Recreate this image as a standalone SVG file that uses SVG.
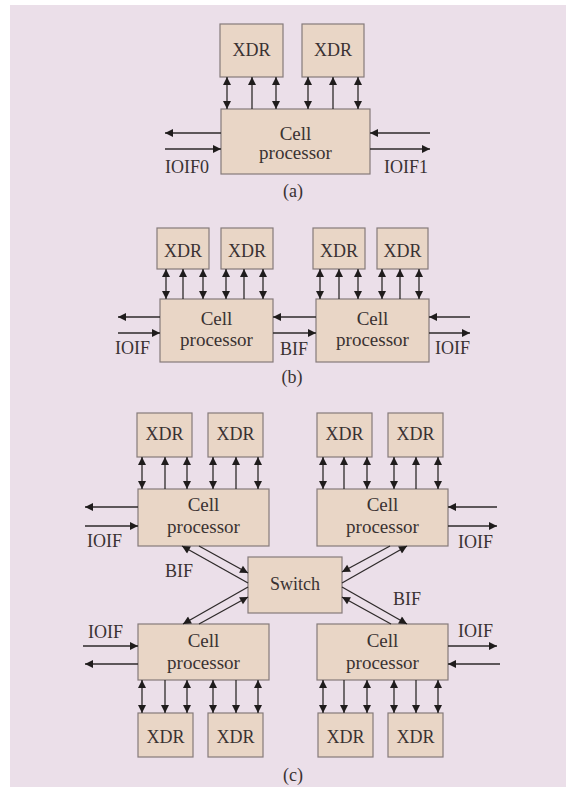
<svg xmlns="http://www.w3.org/2000/svg" width="566" height="787" viewBox="0 0 566 787">
<style>
.bg{fill:#ebdfe9}
.box{fill:#e9d6c6;stroke:#857b7b;stroke-width:1.2}
.t{font-family:"Liberation Serif","Times New Roman",serif;font-size:18px;fill:#3a3232;text-anchor:middle}
.p{font-size:19px}
.l{font-family:"Liberation Serif","Times New Roman",serif;font-size:18px;fill:#3a3232}
.c line{stroke:#2e2a2a;stroke-width:1.3;fill:none}
.u{marker-end:url(#ah)}
.d{marker-start:url(#ah);marker-end:url(#ah)}
</style>
<defs>
<marker id="ah" viewBox="0 0 10 10" refX="10" refY="5" markerUnits="userSpaceOnUse" markerWidth="10" markerHeight="8" orient="auto-start-reverse">
<path d="M0,0 L10,5 L0,10 z" fill="#1f1c1c"/>
</marker>
</defs>
<rect class="bg" x="10" y="5" width="556" height="782"/>

<!-- (a) -->
<g id="a-xdr1"><rect class="box" x="220" y="24" width="63" height="53"/><text class="t" x="251.5" y="56">XDR</text></g>
<g id="a-xdr2"><rect class="box" x="302" y="24" width="62" height="53"/><text class="t" x="333" y="56">XDR</text></g>
<g id="a-cell"><rect class="box" x="221" y="109" width="149" height="65"/><text class="t p" x="295.5" y="140">Cell</text><text class="t p" x="295.5" y="159">processor</text></g>
<g id="a-labels"><text class="l" x="165" y="173">IOIF0</text><text class="l" x="428" y="173" text-anchor="end">IOIF1</text><text class="t" x="293" y="197">(a)</text></g>

<!-- (b) -->
<g id="b-xdr1"><rect class="box" x="157" y="228" width="52" height="41"/><text class="t" x="183" y="257">XDR</text></g>
<g id="b-xdr2"><rect class="box" x="221" y="228" width="52" height="41"/><text class="t" x="247" y="257">XDR</text></g>
<g id="b-xdr3"><rect class="box" x="313" y="228" width="52" height="41"/><text class="t" x="339" y="257">XDR</text></g>
<g id="b-xdr4"><rect class="box" x="377" y="228" width="51" height="41"/><text class="t" x="402.5" y="257">XDR</text></g>
<g id="b-cell1"><rect class="box" x="160" y="299" width="113" height="63"/><text class="t p" x="216.5" y="325">Cell</text><text class="t p" x="216.5" y="346">processor</text></g>
<g id="b-cell2"><rect class="box" x="316" y="299" width="113" height="63"/><text class="t p" x="372.5" y="325">Cell</text><text class="t p" x="372.5" y="346">processor</text></g>
<g id="b-labels"><text class="l" x="115" y="354">IOIF</text><text class="l" x="280" y="355">BIF</text><text class="l" x="435" y="354">IOIF</text><text class="t" x="292" y="383">(b)</text></g>

<!-- (c) -->
<g id="c-xdr-tl1"><rect class="box" x="137" y="413" width="55" height="44"/><text class="t" x="164.5" y="440">XDR</text></g>
<g id="c-xdr-tl2"><rect class="box" x="208" y="413" width="55" height="44"/><text class="t" x="235.5" y="440">XDR</text></g>
<g id="c-xdr-tr1"><rect class="box" x="317" y="413" width="55" height="44"/><text class="t" x="344.5" y="440">XDR</text></g>
<g id="c-xdr-tr2"><rect class="box" x="388" y="413" width="55" height="44"/><text class="t" x="415.5" y="440">XDR</text></g>
<g id="c-cell-tl"><rect class="box" x="138" y="489" width="131" height="57"/><text class="t p" x="203.5" y="511">Cell</text><text class="t p" x="203.5" y="533">processor</text></g>
<g id="c-cell-tr"><rect class="box" x="317" y="489" width="131" height="57"/><text class="t p" x="382.5" y="511">Cell</text><text class="t p" x="382.5" y="533">processor</text></g>
<g id="c-switch"><rect class="box" x="248" y="557" width="94" height="56"/><text class="t" x="295" y="590">Switch</text></g>
<g id="c-cell-bl"><rect class="box" x="138" y="624" width="131" height="56"/><text class="t p" x="203.5" y="647">Cell</text><text class="t p" x="203.5" y="669">processor</text></g>
<g id="c-cell-br"><rect class="box" x="317" y="624" width="131" height="56"/><text class="t p" x="382.5" y="647">Cell</text><text class="t p" x="382.5" y="669">processor</text></g>
<g id="c-xdr-bl1"><rect class="box" x="138" y="713" width="55" height="44"/><text class="t" x="165.5" y="743">XDR</text></g>
<g id="c-xdr-bl2"><rect class="box" x="208" y="713" width="55" height="44"/><text class="t" x="235.5" y="743">XDR</text></g>
<g id="c-xdr-br1"><rect class="box" x="318" y="713" width="55" height="44"/><text class="t" x="345.5" y="743">XDR</text></g>
<g id="c-xdr-br2"><rect class="box" x="388" y="713" width="55" height="44"/><text class="t" x="415.5" y="743">XDR</text></g>
<g id="c-labels">
<text class="l" x="87" y="547">IOIF</text><text class="l" x="458" y="548">IOIF</text>
<text class="l" x="165" y="577">BIF</text><text class="l" x="393" y="605">BIF</text>
<text class="l" x="88" y="638">IOIF</text><text class="l" x="458" y="637">IOIF</text>
<text class="t" x="293" y="781">(c)</text>
</g>

<g id="connectors" class="c">
<!-- (a) -->
<line class="d" x1="227" y1="77" x2="227" y2="109"/>
<line class="u" x1="252" y1="109" x2="252" y2="77"/>
<line class="d" x1="276" y1="77" x2="276" y2="109"/>
<line class="d" x1="308" y1="77" x2="308" y2="109"/>
<line class="u" x1="333" y1="109" x2="333" y2="77"/>
<line class="d" x1="358" y1="77" x2="358" y2="109"/>
<line class="u" x1="221" y1="133" x2="165" y2="133"/>
<line class="u" x1="165" y1="149" x2="221" y2="149"/>
<line class="u" x1="430" y1="133" x2="370" y2="133"/>
<line class="u" x1="370" y1="149" x2="430" y2="149"/>
<!-- (b) -->
<line class="d" x1="166" y1="269" x2="166" y2="299"/>
<line class="u" x1="183" y1="299" x2="183" y2="269"/>
<line class="d" x1="203" y1="269" x2="203" y2="299"/>
<line class="d" x1="226" y1="269" x2="226" y2="299"/>
<line class="u" x1="244" y1="299" x2="244" y2="269"/>
<line class="d" x1="263" y1="269" x2="263" y2="299"/>
<line class="d" x1="320" y1="269" x2="320" y2="299"/>
<line class="u" x1="339" y1="299" x2="339" y2="269"/>
<line class="d" x1="358" y1="269" x2="358" y2="299"/>
<line class="d" x1="382" y1="269" x2="382" y2="299"/>
<line class="u" x1="400" y1="299" x2="400" y2="269"/>
<line class="d" x1="419" y1="269" x2="419" y2="299"/>
<line class="u" x1="160" y1="317" x2="118" y2="317"/>
<line class="u" x1="118" y1="333" x2="160" y2="333"/>
<line class="u" x1="316" y1="317" x2="273" y2="317"/>
<line class="u" x1="273" y1="333" x2="316" y2="333"/>
<line class="u" x1="470" y1="317" x2="429" y2="317"/>
<line class="u" x1="429" y1="333" x2="470" y2="333"/>
<!-- (c) top -->
<line class="d" x1="142" y1="457" x2="142" y2="489"/>
<line class="u" x1="165" y1="489" x2="165" y2="457"/>
<line class="d" x1="187" y1="457" x2="187" y2="489"/>
<line class="d" x1="213" y1="457" x2="213" y2="489"/>
<line class="u" x1="236" y1="489" x2="236" y2="457"/>
<line class="d" x1="258" y1="457" x2="258" y2="489"/>
<line class="d" x1="323" y1="457" x2="323" y2="489"/>
<line class="u" x1="344" y1="489" x2="344" y2="457"/>
<line class="d" x1="367" y1="457" x2="367" y2="489"/>
<line class="d" x1="394" y1="457" x2="394" y2="489"/>
<line class="u" x1="416" y1="489" x2="416" y2="457"/>
<line class="d" x1="438" y1="457" x2="438" y2="489"/>
<line class="u" x1="138" y1="507" x2="85" y2="507"/>
<line class="u" x1="85" y1="526" x2="138" y2="526"/>
<line class="u" x1="497" y1="507" x2="448" y2="507"/>
<line class="u" x1="448" y1="526" x2="497" y2="526"/>
<!-- (c) switch links -->
<line class="u" x1="248" y1="583" x2="182" y2="546"/>
<line class="u" x1="199" y1="546" x2="248" y2="573"/>
<line class="u" x1="248" y1="587" x2="183" y2="624"/>
<line class="u" x1="199" y1="624" x2="248" y2="597"/>
<line class="u" x1="390" y1="546" x2="342" y2="572"/>
<line class="u" x1="342" y1="583" x2="407" y2="546"/>
<line class="u" x1="342" y1="587" x2="407" y2="624"/>
<line class="u" x1="391" y1="624" x2="342" y2="597"/>
<!-- (c) bottom -->
<line class="u" x1="83" y1="646" x2="138" y2="646"/>
<line class="u" x1="138" y1="664" x2="85" y2="664"/>
<line class="u" x1="448" y1="646" x2="497" y2="646"/>
<line class="u" x1="500" y1="664" x2="448" y2="664"/>
<line class="d" x1="142" y1="680" x2="142" y2="713"/>
<line class="u" x1="165" y1="680" x2="165" y2="713"/>
<line class="d" x1="187" y1="680" x2="187" y2="713"/>
<line class="d" x1="213" y1="680" x2="213" y2="713"/>
<line class="u" x1="236" y1="680" x2="236" y2="713"/>
<line class="d" x1="258" y1="680" x2="258" y2="713"/>
<line class="d" x1="323" y1="680" x2="323" y2="713"/>
<line class="u" x1="344" y1="680" x2="344" y2="713"/>
<line class="d" x1="367" y1="680" x2="367" y2="713"/>
<line class="d" x1="394" y1="680" x2="394" y2="713"/>
<line class="u" x1="416" y1="680" x2="416" y2="713"/>
<line class="d" x1="438" y1="680" x2="438" y2="713"/>
</g>
</svg>
